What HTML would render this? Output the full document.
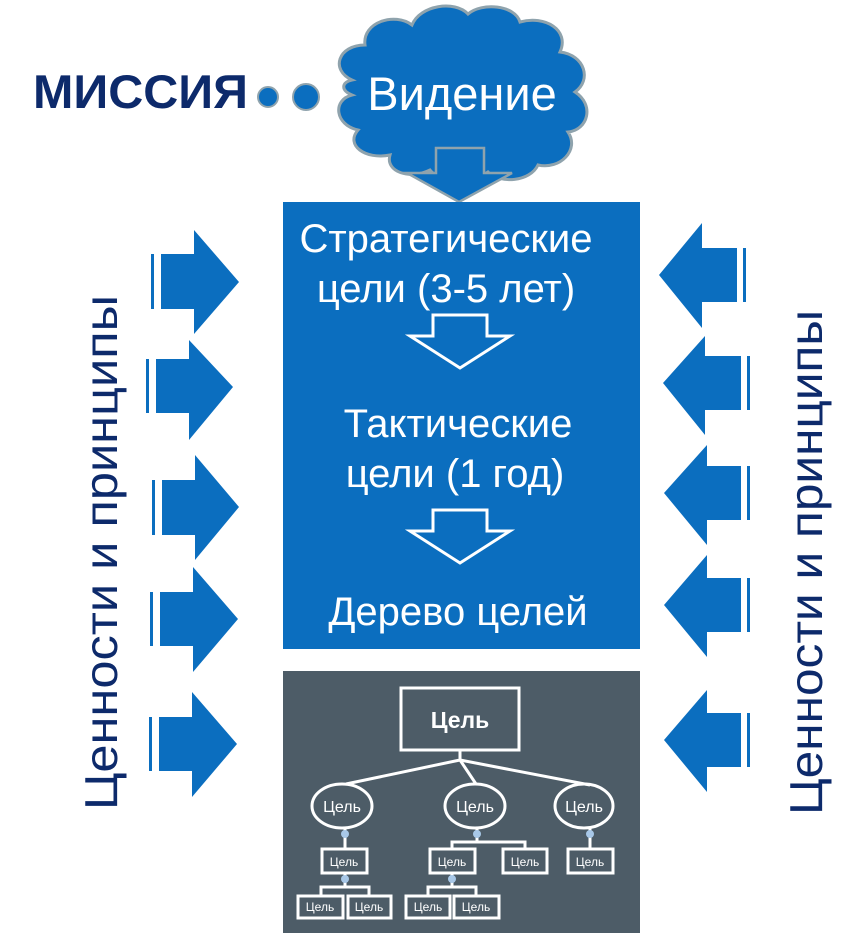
<!DOCTYPE html>
<html><head><meta charset="utf-8"><style>
html,body{margin:0;padding:0;background:#fff}
svg{display:block}
text{font-family:"Liberation Sans",sans-serif}
</style></head><body>
<svg width="862" height="933" viewBox="0 0 862 933" xmlns="http://www.w3.org/2000/svg">
<g fill="#0b6ebf" stroke="#8fa3ad" stroke-width="3">
<path d="M352,80 C330,70 338,45 365,45 C362,22 395,12 412,25 C420,5 455,0 468,14 C482,2 515,5 520,22 C545,15 570,30 560,52 C585,55 592,80 575,92 C595,105 588,130 568,132 C580,150 560,170 538,165 C530,182 500,184 488,172 C470,185 440,183 430,170 C410,180 385,172 390,155 C365,160 345,145 358,130 C335,125 332,100 352,95 C340,90 342,82 352,80 Z"/>
</g>
<text x="462" y="110" font-size="47" fill="#fff" text-anchor="middle">Видение</text>
<polygon points="436,148 484,148 484,173 512,173 459,202 407,173 436,173" fill="#0b6ebf" stroke="#8fa3ad" stroke-width="2.5"/>
<text x="33" y="108" font-size="47" font-weight="bold" fill="#0d2a6b" textLength="215" lengthAdjust="spacingAndGlyphs">МИССИЯ</text>
<circle cx="268" cy="97" r="10" fill="#0b6ebf" stroke="#8fa3ad" stroke-width="2"/>
<circle cx="306" cy="97" r="13" fill="#0b6ebf" stroke="#8fa3ad" stroke-width="2"/>
<rect x="283" y="202" width="357" height="447" fill="#0b6ebf"/>
<g fill="#fff" font-size="40" text-anchor="middle">
<text x="446" y="252">Стратегические</text>
<text x="446" y="302">цели (3-5 лет)</text>
<text x="458" y="437">Тактические</text>
<text x="455" y="487">цели (1 год)</text>
<text x="458" y="625">Дерево целей</text>
</g>
<g fill="none" stroke="#fff" stroke-width="3">
<polygon points="433,315 487,315 487,336 510,336 460,368 410,336 433,336"/>
<polygon points="433,510 487,510 487,531 510,531 460,563 410,531 433,531"/>
</g>
<rect x="283" y="671" width="357" height="262" fill="#4d5c67"/>
<g fill="none" stroke="#fff" stroke-width="3">
<rect x="401" y="688" width="118" height="62"/>
<path d="M460,750 L460,760 M460,760 L346,784 M460,760 L476,784 M460,760 L590,785"/>
<ellipse cx="342" cy="806" rx="30" ry="22"/>
<ellipse cx="475" cy="806" rx="30" ry="22"/>
<ellipse cx="584" cy="806" rx="29" ry="22"/>
<path d="M345,828 L345,849 M477,828 L477,842 L452,842 L452,849 M477,842 L525,842 L525,849 M590,828 L590,849"/>
<rect x="322" y="849" width="45" height="24"/>
<rect x="430" y="849" width="45" height="24"/>
<rect x="503" y="849" width="44" height="24"/>
<rect x="568" y="849" width="45" height="24"/>
<path d="M345,873 L345,887 M321,896 L321,887 L369,887 L369,896 M452,873 L452,887 M428,896 L428,887 L476,887 L476,896"/>
<rect x="298" y="896" width="45" height="22"/>
<rect x="348" y="896" width="43" height="22"/>
<rect x="406" y="896" width="44" height="22"/>
<rect x="454" y="896" width="45" height="22"/>
</g>
<g fill="#a8c8e8">
<circle cx="345" cy="834" r="4"/><circle cx="477" cy="834" r="4"/><circle cx="590" cy="834" r="4"/>
<circle cx="345" cy="879" r="4"/><circle cx="452" cy="879" r="4"/>
</g>
<g fill="#fff" text-anchor="middle">
<text x="460" y="728" font-size="23" font-weight="bold">Цель</text>
<g font-size="16">
<text x="342" y="812">Цель</text><text x="475" y="812">Цель</text><text x="584" y="812">Цель</text>
</g>
<g font-size="12">
<text x="344" y="866">Цель</text><text x="452" y="866">Цель</text><text x="525" y="866">Цель</text><text x="590" y="866">Цель</text>
<text x="320" y="911">Цель</text><text x="369" y="911">Цель</text><text x="428" y="911">Цель</text><text x="476" y="911">Цель</text>
</g>
</g>
<g fill="#0b6ebf">
<polygon points="161,254 194,254 194,230 239,282 194,334 194,309 161,309"/>
<rect x="151" y="254" width="3" height="55"/>
<polygon points="156,359 189,359 189,340 233,387 189,440 189,413 156,413"/>
<rect x="146" y="359" width="3" height="54"/>
<polygon points="162,480 195,480 195,455 239,507 195,560 195,535 162,535"/>
<rect x="152" y="480" width="3" height="55"/>
<polygon points="160,592 193,592 193,567 238,619 193,672 193,646 160,646"/>
<rect x="150" y="592" width="3" height="54"/>
<polygon points="159,717 192,717 192,692 237,744 192,797 192,771 159,771"/>
<rect x="149" y="717" width="3" height="54"/>
<polygon points="737,248 702,248 702,223 659,275 702,328 702,302 737,302"/>
<rect x="743" y="248" width="3" height="54"/>
<polygon points="741,356 705,356 705,336 663,383 705,435 705,410 741,410"/>
<rect x="747" y="356" width="3" height="54"/>
<polygon points="741,466 707,466 707,445 664,493 707,545 707,520 741,520"/>
<rect x="747" y="466" width="3" height="54"/>
<polygon points="741,578 707,578 707,555 664,605 707,657 707,632 741,632"/>
<rect x="747" y="578" width="3" height="54"/>
<polygon points="741,713 707,713 707,690 664,740 707,792 707,767 741,767"/>
<rect x="747" y="713" width="3" height="54"/>
</g>
<text transform="translate(117,810) rotate(-90)" font-size="46" fill="#0d2a6b" textLength="515" lengthAdjust="spacingAndGlyphs">Ценности и принципы</text>
<text transform="translate(822,815) rotate(-90)" font-size="46" fill="#0d2a6b" textLength="505" lengthAdjust="spacingAndGlyphs">Ценности и принципы</text>
</svg>
</body></html>
